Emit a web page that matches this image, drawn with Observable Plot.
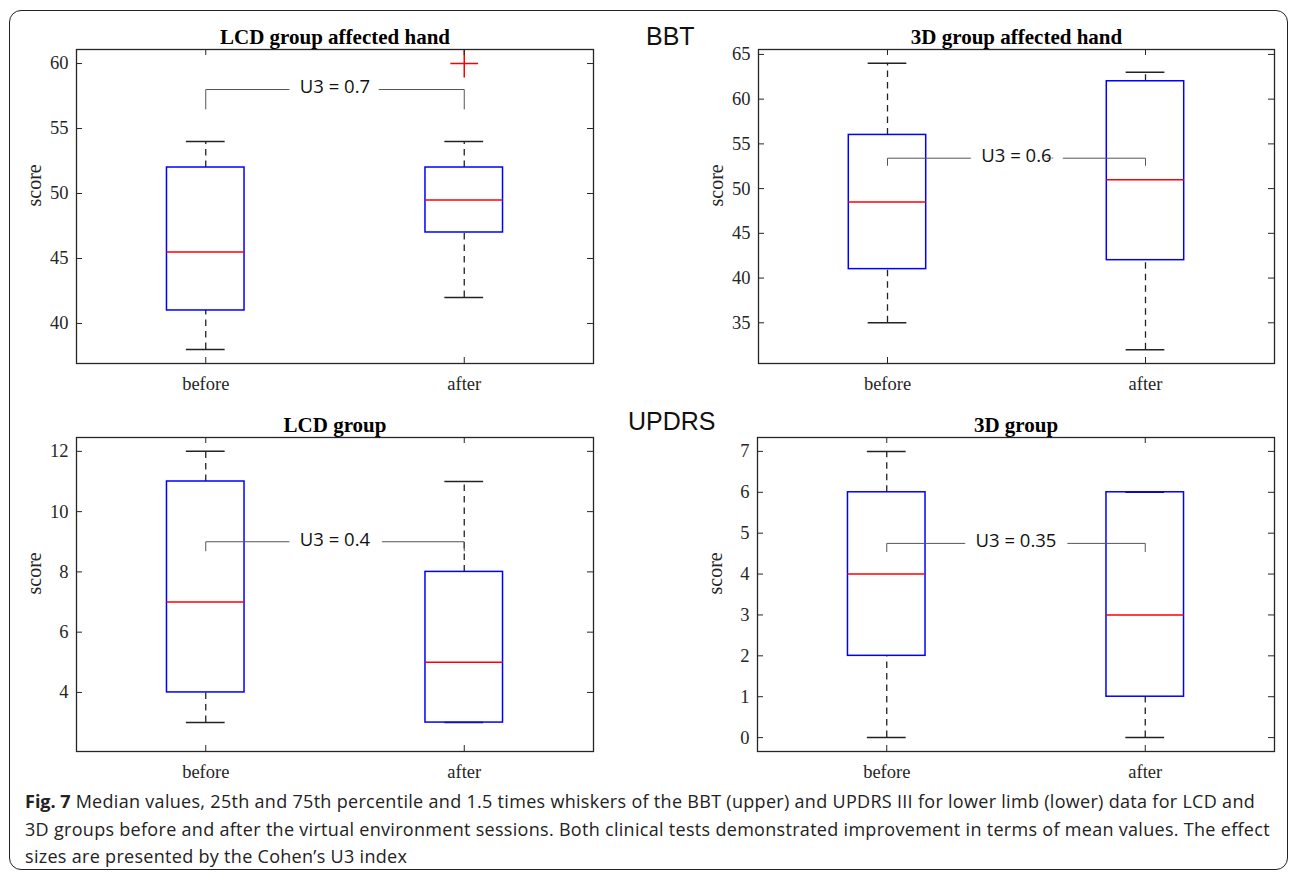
<!DOCTYPE html>
<html>
<head>
<meta charset="utf-8">
<script src="https://cdn.jsdelivr.net/npm/d3@7"></script>
<script src="https://cdn.jsdelivr.net/npm/@observablehq/plot@0.6"></script>
<style>
  body { margin: 0; background: #fff; }
  #wrap { position: relative; width: 1293px; height: 873px; overflow: hidden; background: #fff; }
  .border { position: absolute; left: 9px; top: 10px; width: 1277px; height: 858px; border: 1.5px solid #222; border-radius: 12px; }
  .panel { position: absolute; }
  .big { position: absolute; font-family: "Liberation Sans", Arial, sans-serif; font-size: 25px; line-height: 25px; color: #111; }
  .caption { position: absolute; left: 25px; top: 788px; font-family: "Open Sans", sans-serif; font-size: 18px; letter-spacing: 0.3px; line-height: 27.5px; color: #222; white-space: nowrap; }
  .caption b { font-weight: 700; letter-spacing: 0; }
</style>
</head>
<body>
<div id="wrap">
  <div class="border"></div>
  <div class="panel" id="p1" style="left:0;top:0"></div>
  <div class="panel" id="p2" style="left:640px;top:0"></div>
  <div class="panel" id="p3" style="left:0;top:400px"></div>
  <div class="panel" id="p4" style="left:640px;top:400px"></div>
  <div class="big" style="left:646px;top:24px">BBT</div>
  <div class="big" style="left:628px;top:409px">UPDRS</div>
  <div class="caption"><b>Fig. 7</b> Median values, 25th and 75th percentile and 1.5 times whiskers of the BBT (upper) and UPDRS III for lower limb (lower) data for LCD and<br>3D groups before and after the virtual environment sessions. Both clinical tests demonstrated improvement in terms of mean values. The effect<br>sizes are presented by the Cohen’s U3 index</div>
</div>
<script>
// ---- data ----
const groups = ["before", "after"];
const titles = ["LCD group affected hand", "3D group affected hand", "LCD group", "3D group"];
const u3Values = [0.7, 0.6, 0.4, 0.35];
const u3BracketY = [58, 53.4, 9, 4.75];
const u3LegEnd = [56.5, 52.6, 8.7, 4.55];

// BBT, LCD group affected hand
const bbtLcdLow = [38, 42];
const bbtLcdQ1 = [41, 47];
const bbtLcdMedian = [45.5, 49.5];
const bbtLcdQ3 = [52, 52];
const bbtLcdHigh = [54, 54];
const bbtLcdOutlierGroup = ["after"];
const bbtLcdOutlierValue = [60];

// BBT, 3D group affected hand
const bbt3dLow = [35, 32];
const bbt3dQ1 = [41, 42];
const bbt3dMedian = [48.5, 51];
const bbt3dQ3 = [56, 62];
const bbt3dHigh = [64, 63];

// UPDRS, LCD group
const updrsLcdLow = [3, 3];
const updrsLcdQ1 = [4, 3];
const updrsLcdMedian = [7, 5];
const updrsLcdQ3 = [11, 8];
const updrsLcdHigh = [12, 11];

// UPDRS, 3D group
const updrs3dLow = [0, 0];
const updrs3dQ1 = [2, 1];
const updrs3dMedian = [4, 3];
const updrs3dQ3 = [6, 6];
const updrs3dHigh = [7, 6];

// tick labels
const ticksBbtLcd = [40, 45, 50, 55, 60];
const ticksBbt3d = [35, 40, 45, 50, 55, 60, 65];
const ticksUpdrsLcd = [4, 6, 8, 10, 12];
const ticksUpdrs3d = [0, 1, 2, 3, 4, 5, 6, 7];

// ---- drawing ----
const axisColor = "#262626";
const boxHalf = 0.15, capHalf = 0.075;

function panel(o) {
  const {title, low, q1, med, q3, high, outGroup = [], outValue = [], yDomain, yTicks, u3, bracketY, legEnd, m} = o;
  const height = 400;
  const fw = m.width - m.left - m.right;
  const fh = height - m.top - m.bottom;
  const rows = groups.map((g, i) => ({pos: i + 1, low: low[i], q1: q1[i], med: med[i], q3: q3[i], high: high[i]}));
  const outs = outGroup.map((g, i) => ({pos: groups.indexOf(g) + 1, value: outValue[i]}));
  const bracket = [
    {x: 1, y: legEnd}, {x: 1, y: bracketY}, {x: groups.length, y: bracketY}, {x: groups.length, y: legEnd}
  ];
  const mid = (1 + groups.length) / 2;
  return Plot.plot({
    width: m.width, height,
    marginLeft: m.left, marginRight: m.right, marginTop: m.top, marginBottom: m.bottom,
    x: {type: "linear", domain: [0.5, groups.length + 0.5]},
    y: {domain: yDomain},
    style: {background: "transparent", fontFamily: "'Liberation Serif','Times New Roman',serif", fontSize: "18.5px", color: axisColor, overflow: "visible"},
    marks: [
      Plot.ruleX(rows, {x: "pos", y1: "q3", y2: "high", stroke: "#222", strokeWidth: 1.3, strokeDasharray: "6.5,5"}),
      Plot.ruleX(rows, {x: "pos", y1: "low", y2: "q1", stroke: "#222", strokeWidth: 1.3, strokeDasharray: "6.5,5"}),
      Plot.ruleY(rows, {y: "high", x1: d => d.pos - capHalf, x2: d => d.pos + capHalf, stroke: "#222", strokeWidth: 1.5}),
      Plot.ruleY(rows, {y: "low", x1: d => d.pos - capHalf, x2: d => d.pos + capHalf, stroke: "#222", strokeWidth: 1.5}),
      Plot.rect(rows, {x1: d => d.pos - boxHalf, x2: d => d.pos + boxHalf, y1: "q1", y2: "q3", fill: "none", stroke: "#0000ff", strokeWidth: 1.5}),
      Plot.ruleY(rows, {y: "med", x1: d => d.pos - boxHalf, x2: d => d.pos + boxHalf, stroke: "#ff0000", strokeWidth: 1.5}),
      Plot.dot(outs, {x: "pos", y: "value", symbol: "plus", r: 9, stroke: "#ff0000", strokeWidth: 1.5}),
      Plot.line(bracket, {x: "x", y: "y", stroke: "#555", strokeWidth: 1}),
      Plot.text([u3], {x: () => mid, y: () => bracketY, text: d => `U3 = ${d}`, fontFamily: "'Open Sans',sans-serif", fontSize: 18.5, fill: "#111", stroke: "white", strokeWidth: 24, paintOrder: "stroke", dy: -2}),
      Plot.frame({stroke: axisColor, strokeWidth: 1.3}),
      Plot.tickY(yTicks, {y: d => d, insetRight: fw - 6, stroke: axisColor}),
      Plot.tickY(yTicks, {y: d => d, insetLeft: fw - 6, stroke: axisColor}),
      Plot.tickX(groups.map((g, i) => i + 1), {x: d => d, insetBottom: fh - 6, stroke: axisColor}),
      Plot.tickX(groups.map((g, i) => i + 1), {x: d => d, insetTop: fh - 6, stroke: axisColor}),
      Plot.axisY({ticks: yTicks, tickSize: 0, tickPadding: 8, label: null}),
      Plot.axisX({ticks: groups.map((g, i) => i + 1), tickFormat: d => groups[d - 1], tickSize: 0, tickPadding: 13, label: null}),
      Plot.text([title], {frameAnchor: "top", text: d => d, lineAnchor: "bottom", dy: -6, fontWeight: "bold", fontSize: 21, fill: "#000"}),
      Plot.text(["score"], {frameAnchor: "left", text: d => d, rotate: -90, dx: -42, fontSize: 20})
    ]
  });
}

document.getElementById("p1").append(panel({
  title: titles[0], low: bbtLcdLow, q1: bbtLcdQ1, med: bbtLcdMedian, q3: bbtLcdQ3, high: bbtLcdHigh,
  outGroup: bbtLcdOutlierGroup, outValue: bbtLcdOutlierValue,
  yDomain: [36.92, 61.08], yTicks: ticksBbtLcd, u3: u3Values[0], bracketY: u3BracketY[0], legEnd: u3LegEnd[0],
  m: {width: 640, left: 76, right: 47, top: 49, bottom: 37}
}));
document.getElementById("p2").append(panel({
  title: titles[1], low: bbt3dLow, q1: bbt3dQ1, med: bbt3dMedian, q3: bbt3dQ3, high: bbt3dHigh,
  yDomain: [30.45, 65.55], yTicks: ticksBbt3d, u3: u3Values[1], bracketY: u3BracketY[1], legEnd: u3LegEnd[1],
  m: {width: 653, left: 118, right: 19, top: 49, bottom: 37}
}));
document.getElementById("p3").append(panel({
  title: titles[2], low: updrsLcdLow, q1: updrsLcdQ1, med: updrsLcdMedian, q3: updrsLcdQ3, high: updrsLcdHigh,
  yDomain: [2.04, 12.46], yTicks: ticksUpdrsLcd, u3: u3Values[2], bracketY: u3BracketY[2], legEnd: u3LegEnd[2],
  m: {width: 640, left: 76, right: 47, top: 37, bottom: 49}
}));
document.getElementById("p4").append(panel({
  title: titles[3], low: updrs3dLow, q1: updrs3dQ1, med: updrs3dMedian, q3: updrs3dQ3, high: updrs3dHigh,
  yDomain: [-0.34, 7.34], yTicks: ticksUpdrs3d, u3: u3Values[3], bracketY: u3BracketY[3], legEnd: u3LegEnd[3],
  m: {width: 653, left: 117, right: 19, top: 37, bottom: 49}
}));
</script>
</body>
</html>
